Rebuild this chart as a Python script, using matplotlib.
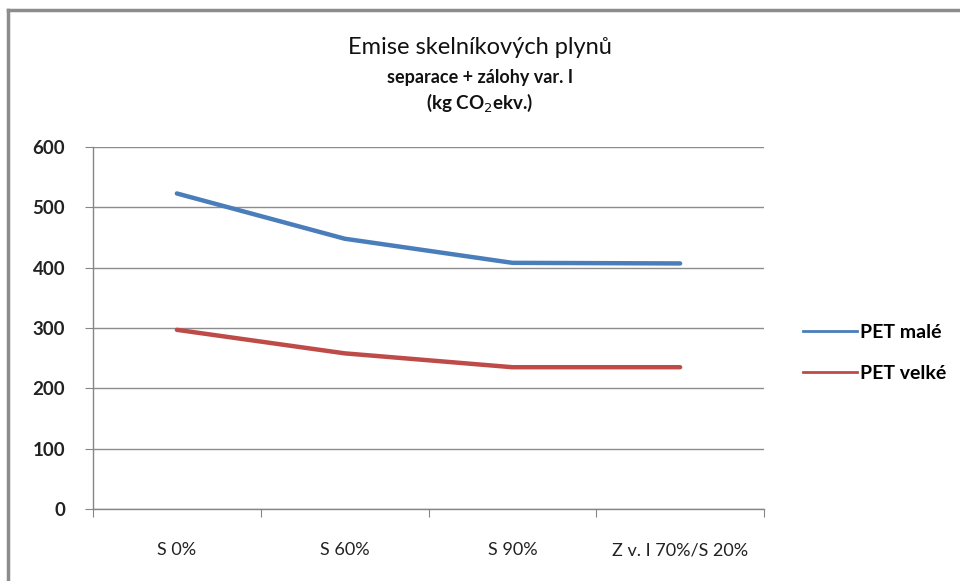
import matplotlib
matplotlib.use("Agg")
import matplotlib.pyplot as plt
from matplotlib.lines import Line2D

categories = ["S 0%", "S 60%", "S 90%", "Z v. I 70%/S 20%"]
pet_male = [523, 448, 408, 407]
pet_velke = [297, 258, 235, 235]
series_names = ["PET malé", "PET velké"]
yticks = [0, 100, 200, 300, 400, 500, 600]

plt.rcParams['font.family'] = ['Lato', 'DejaVu Sans']

W, H = 960, 581
fig = plt.figure(figsize=(W / 100, H / 100), dpi=100)
ax = fig.add_axes([93 / W, 1 - 509 / H, (764 - 93) / W, (509 - 147) / H])

x = [i + 0.5 for i in range(len(categories))]
ax.plot(x, pet_male, color="#4a7ebb", lw=3.2, solid_capstyle="round", solid_joinstyle="round")
ax.plot(x, pet_velke, color="#be4b48", lw=3.2, solid_capstyle="round", solid_joinstyle="round")

ax.set_xlim(0, len(categories))
ax.set_ylim(0, 600)
ax.set_yticks(yticks)
ax.set_yticklabels([str(v) for v in yticks], fontsize=13.5, fontweight="bold", color="#222222")
ax.set_xticks(range(len(categories) + 1))
ax.set_xticklabels([])
ax.set_xticks(x, minor=True)
ax.set_xticklabels(categories, minor=True, fontsize=13, color="#222222")
ax.tick_params(axis="x", which="minor", length=0, pad=24)
ax.tick_params(axis="x", which="major", length=6, color="#868686", direction="out")
ax.tick_params(axis="y", length=6, color="#868686", direction="out", pad=14)
ax.grid(axis="y", color="#8c8c8c", lw=1)
ax.set_axisbelow(True)
for s in ["top", "right"]:
    ax.spines[s].set_visible(False)
for s in ["left", "bottom"]:
    ax.spines[s].set_color("#868686")
    ax.spines[s].set_linewidth(1)

# titles
fig.text(480 / W, 1 - 47 / H, "Emise skelníkových plynů", ha="center", va="center", fontsize=17, color="#111111")
fig.text(480 / W, 1 - 78 / H, "separace + zálohy var. I", ha="center", va="center", fontsize=13, fontweight="bold", color="#111111")
fig.text(480 / W, 1 - 103 / H, "(kg CO$_2$ekv.)", ha="center", va="center", fontsize=13.5, fontweight="bold", color="#111111")

# legend
handles = [Line2D([], [], color="#4a7ebb", lw=2), Line2D([], [], color="#be4b48", lw=2)]
fig.legend(handles, series_names, loc="center left", bbox_to_anchor=(785 / W, 1 - 353 / H),
           frameon=False, handlelength=2.8, handletextpad=0.15, labelspacing=1.25,
           prop={"weight": "bold", "size": 14})

# outer frame (top and left)
fig.add_artist(Line2D([8 / W, 8 / W], [0, 1 - 10 / H], color="#8c8c8c", lw=2.5, transform=fig.transFigure))
fig.add_artist(Line2D([8 / W, 1], [1 - 10 / H, 1 - 10 / H], color="#8c8c8c", lw=2.5, transform=fig.transFigure))

fig.savefig("out.png", dpi=100)
